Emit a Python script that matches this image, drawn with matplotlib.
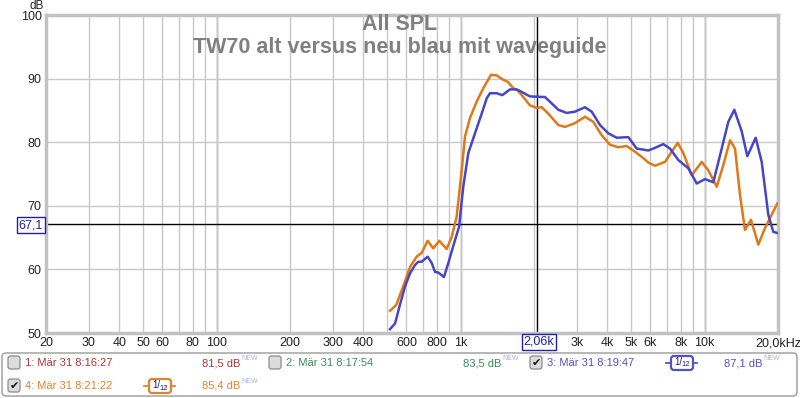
import matplotlib
matplotlib.use('Agg')
import matplotlib.pyplot as plt
from matplotlib.patches import FancyBboxPatch

# ── data ──
freq_blue = [514, 539, 564, 592, 621, 651, 671, 693, 733, 762, 786, 811, 855, 891, 949,
             986, 1026, 1076, 1146, 1221, 1280, 1320, 1406, 1483, 1595, 1699, 1781, 1925,
             2218, 2364, 2516, 2723, 2944, 3236, 3448, 3728, 4032, 4366, 4870, 5272, 5880,
             6166, 6777, 7217, 7806, 8580, 9290, 10045, 10860, 11758, 12514, 13242, 14202,
             14970, 16203, 17150, 18248, 19131, 20000]
spl_blue = [50.6, 51.5, 54.4, 57.3, 59.4, 60.7, 61.2, 61.2, 62.0, 61.0, 59.6, 59.5, 58.8,
            61.0, 64.6, 66.7, 73.0, 78.3, 81.4, 84.5, 86.9, 87.7, 87.7, 87.4, 88.3, 88.3,
            87.9, 87.2, 87.1, 86.1, 85.1, 84.6, 84.8, 85.5, 84.8, 82.7, 81.4, 80.7, 80.8,
            79.0, 78.7, 79.0, 79.7, 79.0, 77.2, 75.9, 73.5, 74.2, 73.7, 79.0, 83.2, 85.1,
            81.7, 77.8, 80.7, 76.9, 68.6, 65.9, 65.7]

freq_orange = [514, 545, 588, 621, 661, 693, 733, 773, 818, 877, 920, 964, 1011, 1043,
               1093, 1165, 1240, 1333, 1406, 1483, 1560, 1645, 1719, 1781, 1925, 2052, 2151,
               2288, 2516, 2680, 2944, 3236, 3500, 3788, 4098, 4430, 4798, 5188, 5610, 5880,
               6266, 6886, 7334, 7762, 8184, 8858, 9738, 10357, 11219, 11938, 12720, 13330,
               13974, 14650, 15500, 16611, 17692, 19131, 19900]
spl_orange = [53.5, 54.4, 57.8, 60.4, 62.0, 62.6, 64.5, 63.3, 64.5, 63.2, 65.1, 68.3, 75.6,
              80.9, 83.8, 86.4, 88.5, 90.6, 90.5, 89.9, 89.5, 88.5, 88.1, 87.4, 85.8, 85.4,
              85.5, 84.5, 82.7, 82.4, 83.0, 84.0, 83.2, 81.1, 79.6, 79.2, 79.4, 78.5, 77.5,
              76.8, 76.3, 76.9, 78.5, 79.9, 78.3, 74.8, 76.9, 75.6, 73.0, 76.4, 80.3, 79.0,
              71.7, 66.2, 67.8, 63.9, 66.5, 69.1, 70.4]

grid_freqs = [20, 30, 40, 50, 60, 70, 80, 90, 100, 200, 300, 400, 500, 600, 700, 800, 900,
              1000, 2000, 3000, 4000, 5000, 6000, 7000, 8000, 9000, 10000, 20000]
grid_labels = ['20', '30', '40', '50', '60', '', '80', '', '100', '200', '300', '400', '',
               '600', '', '800', '', '1k', '', '3k', '4k', '5k', '6k', '', '8k', '', '10k',
               '20,0kHz']
db_ticks = [50, 60, 70, 80, 90, 100]

cursor_freq = 2060
cursor_db = 67.1

legend_rows = [
    ('1: Mär 31 8:16:27', '81,5 dB', '#b03434', False),
    ('2: Mär 31 8:17:54', '83,5 dB', '#3c8c5a', False),
    ('3: Mär 31 8:19:47', '87,1 dB', '#5252c8', True),
    ('4: Mär 31 8:21:22', '85,4 dB', '#e0832a', True),
]

BLUE = '#4646c8'
ORANGE = '#e07818'
GRID = '#c8c8c8'
TXT = '#222222'
NARROW = ['Liberation Sans Narrow', 'Liberation Sans', 'DejaVu Sans']

plt.rcParams['font.family'] = ['Liberation Sans', 'DejaVu Sans']

fig = plt.figure(figsize=(8, 3.98), dpi=100, facecolor='white')
ax = fig.add_axes([46 / 800, 1 - 333 / 398, 732 / 800, 318 / 398])

ax.set_xscale('log')
ax.set_xlim(20, 20000)
ax.set_ylim(50, 100)
ax.set_xticks(grid_freqs)
ax.set_xticklabels(grid_labels)
ax.xaxis.set_minor_locator(matplotlib.ticker.NullLocator())
ax.set_yticks(db_ticks)
ax.tick_params(length=0, labelsize=9, colors=TXT, pad=3)
ax.grid(True, color=GRID, lw=1)
for f in (100, 1000, 10000):
    ax.axvline(f, color='#8c8c8c', lw=1, zorder=1)
for s in ax.spines.values():
    s.set_edgecolor('#c2c2c2')
    s.set_linewidth(2.5)

# cursors
ax.axvline(cursor_freq, color='black', lw=1, zorder=2)
ax.axhline(cursor_db, color='black', lw=1, zorder=2)

ax.plot(freq_orange, spl_orange, color=ORANGE, lw=1.8, zorder=4)
ax.plot(freq_blue, spl_blue, color=BLUE, lw=1.8, zorder=5)

# ── overlay in pixel coords for title, cursor labels and legend ──
ov = fig.add_axes([0, 0, 1, 1])
ov.set_xlim(0, 800)
ov.set_ylim(398, 0)
ov.axis('off')
ov.patch.set_alpha(0)

ov.text(400, 25, 'All SPL', ha='center', va='center', fontsize=15.5,
        fontweight='bold', color='#808080')
ov.text(400, 48, 'TW70 alt versus neu blau mit waveguide', ha='center', va='center',
        fontsize=15.5, fontweight='bold', color='#808080')
ov.text(44, 6, 'dB', ha='right', va='center', fontsize=8.5, color=TXT)

ov.text(539, 342, '2,06k', ha='center', va='center', fontsize=9, color='#2020b0',
        bbox=dict(boxstyle='square,pad=0.15', fc='white', ec='#2020a0', lw=1))
ov.text(31, 225, '67,1', ha='center', va='center', fontsize=9, color='#2020b0',
        bbox=dict(boxstyle='square,pad=0.15', fc='white', ec='#2020a0', lw=1))

# legend panel
ov.add_patch(FancyBboxPatch((2, 353), 795, 43, boxstyle='round,pad=0,rounding_size=4',
                            fc='white', ec='#9a9a9a', lw=1))

slots = [(8, 363), (269, 363), (530, 363), (8, 386)]
for (name, level, col, checked), (x0, y0) in zip(legend_rows, slots):
    ov.add_patch(FancyBboxPatch((x0, y0 - 7), 12, 13, boxstyle='round,pad=0,rounding_size=2.5',
                                fc='#dcdcdc', ec='#8c8c8c', lw=0.9))
    if checked:
        ov.text(x0 + 6, y0, '✔', ha='center', va='center', fontsize=8, color='#111111',
                family=['DejaVu Sans'])
    ov.text(x0 + 17, y0, name, ha='left', va='center', fontsize=8, color=col, family=NARROW)
    lv = ov.text(x0 + 194, y0, level, ha='left', va='center', fontsize=8, color=col,
                 family=NARROW)
    ov.annotate('NEW', xy=(1, 1), xycoords=lv, xytext=(1, 2), textcoords='offset points',
                ha='left', va='top', fontsize=5, color='#a8b0f4', family=NARROW)
    if checked:
        cx = x0 + 152
        ov.plot([cx - 16, cx + 15], [y0, y0], color=col, lw=1.3)
        ov.add_patch(FancyBboxPatch((cx - 11, y0 - 7), 22, 14,
                                    boxstyle='round,pad=0,rounding_size=3',
                                    fc='white', ec=col, lw=1.6, zorder=3))
        ov.text(cx - 4, y0 - 1, '1/', ha='center', va='center', fontsize=7,
                color='#222266', zorder=4)
        ov.text(cx + 4, y0 + 2, '12', ha='center', va='center', fontsize=5.5,
                color='#222266', zorder=4)

fig.savefig('out.png', dpi=100, facecolor='white')
